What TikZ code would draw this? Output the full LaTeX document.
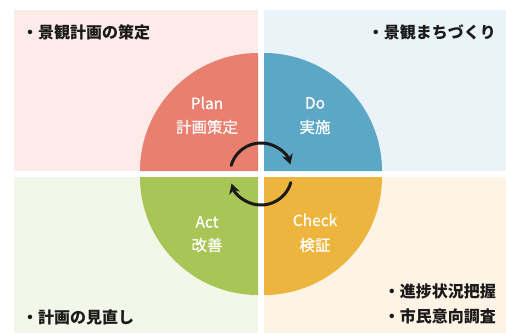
\documentclass[tikz,border=0pt]{standalone}
\usepackage{fontspec}
\setmainfont{Noto Sans CJK JP}
\newfontfamily\jpmed{Noto Sans CJK JP}[FakeBold=0.6]
\usetikzlibrary{arrows.meta,calc}
\definecolor{bgP}{HTML}{FCEBE8}
\definecolor{bgD}{HTML}{EAF3F8}
\definecolor{bgA}{HTML}{F2F7EA}
\definecolor{bgC}{HTML}{FDF4E5}
\definecolor{cP}{HTML}{E9806F}
\definecolor{cD}{HTML}{5CA6C6}
\definecolor{cA}{HTML}{A8C656}
\definecolor{cC}{HTML}{EDB53D}
\definecolor{ink}{HTML}{1A1A1A}
\tikzset{
  x=1pt,y=1pt,
  inner/.style={text=white,font=\jpmed\fontsize{15.5}{18}\selectfont,inner sep=0pt},
  note/.style={text=ink,font=\fontsize{16}{19}\selectfont\bfseries,inner sep=0pt},
  cyc/.style={draw=ink,line width=3pt,line cap=round,-{Stealth[length=10pt,width=11pt]}}
}
\begin{document}
\begin{tikzpicture}
\useasboundingbox (0,0) rectangle (506,333);
\fill[white] (0,0) rectangle (506,333);
% backgrounds
\fill[bgP] (14,162) rectangle (258,323);
\fill[bgD] (264,162) rectangle (506,323);
\fill[bgA] (14,0) rectangle (258,156);
\fill[bgC] (264,0) rectangle (506,156);
% quadrants
\fill[cP] (258,162) -- ++(180:118) arc[start angle=180,end angle=90,radius=118] -- cycle;
\fill[cD] (264,162) -- ++(90:118) arc[start angle=90,end angle=0,radius=118] -- cycle;
\fill[cA] (258,156) -- ++(270:118) arc[start angle=270,end angle=180,radius=118] -- cycle;
\fill[cC] (264,156) -- ++(0:118) arc[start angle=0,end angle=-90,radius=118] -- cycle;
% inner labels
\node[inner] (plan) at (207,230) {Plan};
\node[inner] (planj) at (207,206) {計画策定};
\node[inner] (do) at (315,230) {Do};
\node[inner] (doj) at (315,206) {実施};
\node[inner] (act) at (207,111) {Act};
\node[inner] (actj) at (207,88) {改善};
\node[inner] (check) at (315,113) {Check};
\node[inner] (checkj) at (315,88) {検証};
% cycle arrows
\coordinate (c) at (261,159);
\draw[cyc] ($(c)+(164:31)$) arc[start angle=164,end angle=18,radius=31];
\draw[cyc] ($(c)+(-16:31)$) arc[start angle=-16,end angle=-162,radius=31];
% notes
\node[note,anchor=west] (n1) at (22,301) {・景観計画の策定};
\node[note,anchor=east] (n2) at (496,301) {・景観まちづくり};
\node[note,anchor=west] (n3) at (22,16) {・計画の見直し};
\node[note,anchor=east] (n4) at (496,42) {・進捗状況把握};
\node[note,anchor=east] (n5) at (496,17) {・市民意向調査};
\end{tikzpicture}
\end{document}
